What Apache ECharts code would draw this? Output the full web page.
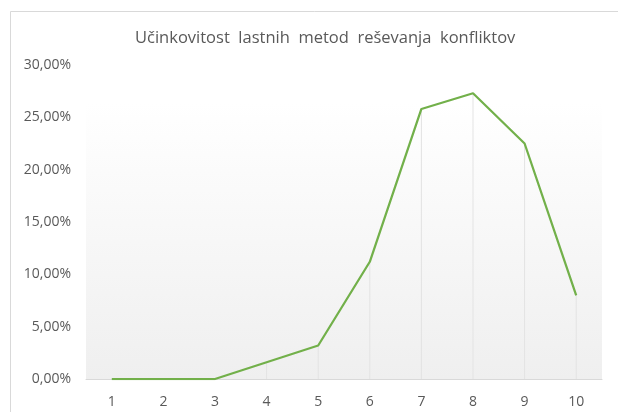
<!DOCTYPE html>
<html><head><meta charset="utf-8">
<script src="https://cdn.jsdelivr.net/npm/echarts@6/dist/echarts.min.js"></script>
<style>html,body{margin:0;padding:0;background:#fff}#c{width:618px;height:412px}</style>
</head><body><div id="c"></div>
<script>
const categories = ['1','2','3','4','5','6','7','8','9','10'];
const values = [0, 0, 0, 0.016, 0.032, 0.112, 0.258, 0.273, 0.225, 0.080];
const titleText = 'Učinkovitost  lastnih  metod  reševanja  konfliktov';

const chart = echarts.init(document.getElementById('c'), null, {renderer:'canvas'});
const fmt = v => (v*100).toFixed(2).replace('.', ',') + '%';
chart.setOption({
  animation:false,
  backgroundColor:'#fff',
  graphic:[{type:'rect', shape:{x:10.5,y:11.5,width:620,height:420}, style:{fill:'none', stroke:'#d9d9d9', lineWidth:1}, silent:true, z:-10}],
  title:{text:titleText, left:130, top:25, textStyle:{fontFamily:'Open Sans', fontSize:16.5, fontWeight:'normal', color:'#595959'}},
  grid:{left:86, right:16, top:65, bottom:33, show:true, borderWidth:0,
    backgroundColor:new echarts.graphic.LinearGradient(0,0,0,1,[{offset:0,color:'#ffffff'},{offset:0.12,color:'#ffffff'},{offset:1,color:'#efefef'}])},
  xAxis:{type:'category', data:categories, boundaryGap:true,
    axisLine:{lineStyle:{color:'#d9d9d9'}}, axisTick:{show:false},
    axisLabel:{color:'#595959', fontFamily:'Open Sans', fontSize:14, margin:16}},
  yAxis:{type:'value', min:0, max:0.30, interval:0.05,
    axisLine:{show:false}, axisTick:{show:false}, splitLine:{show:false},
    axisLabel:{color:'#595959', fontFamily:'Open Sans', fontSize:14, margin:15, formatter:fmt}},
  series:[
    {type:'bar', data:values, barWidth:1, itemStyle:{color:'#e3e3e3'}, silent:true, z:1},
    {type:'line', data:values, symbol:'none', lineStyle:{color:'#72b04a', width:2.25}, z:3}
  ]
});
</script></body></html>
